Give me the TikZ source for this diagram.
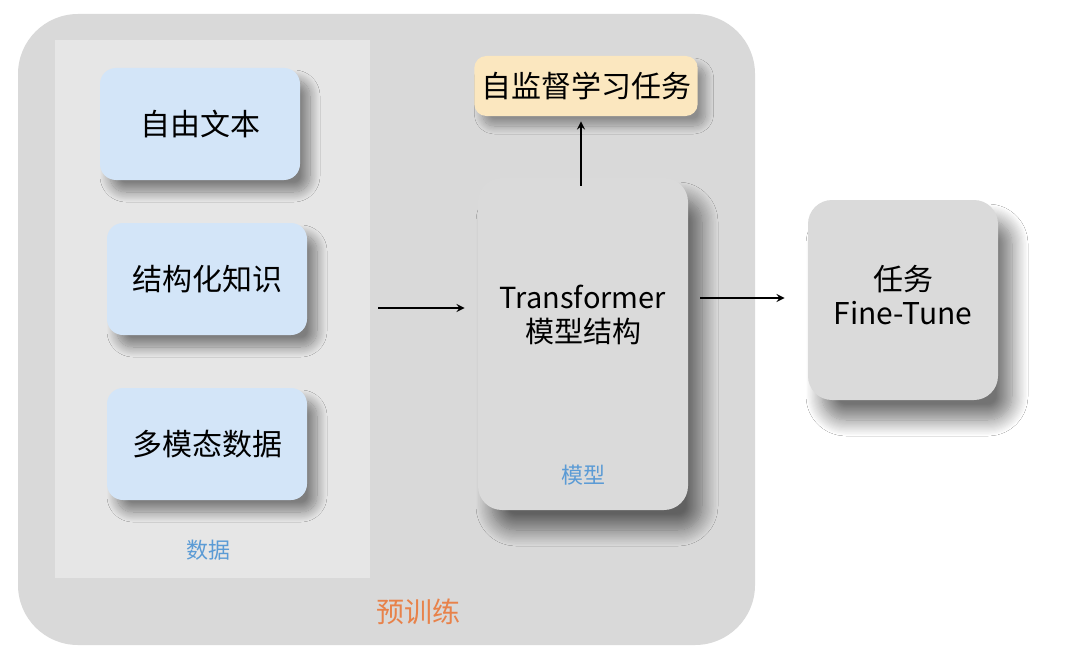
\documentclass[tikz,border=0pt]{standalone}
\usepackage{fontspec}
\setmainfont{Noto Sans CJK SC}
\usetikzlibrary{shadows.blur}

\definecolor{outergray}{HTML}{D9D9D9}
\definecolor{panelgray}{HTML}{E6E6E6}
\definecolor{boxblue}{HTML}{D3E5F8}
\definecolor{boxgray}{HTML}{DADADA}
\definecolor{taskyellow}{HTML}{FBE7BF}
\definecolor{labelblue}{HTML}{5B9BD5}
\definecolor{labelorange}{HTML}{E8824A}

\begin{document}
\begin{tikzpicture}[x=0.5pt, y=-0.5pt,
    databox/.style = {rounded corners=8pt, fill=boxblue, minimum width=100pt, minimum height=56pt,
        font=\fontsize{15}{18}\selectfont,
        blur shadow={shadow xshift=5pt, shadow yshift=-6pt, shadow blur radius=5pt,
            shadow blur steps=15, shadow opacity=45}},
    graybox/.style = {rounded corners=12pt, fill=boxgray, align=center,
        font=\fontsize{15}{17}\selectfont,
        blur shadow={shadow xshift=7pt, shadow yshift=-10pt, shadow blur radius=8pt,
            shadow blur steps=15, shadow opacity=55}},
    tag/.style = {font=\fontsize{11}{13}\selectfont, text=labelblue},
    >=stealth]
    \useasboundingbox (0,0) rectangle (1080,658);
    \fill[white] (0,0) rectangle (1080,658);
%% pretraining area and data panel
    \fill[outergray, rounded corners=30pt] (18,14) rectangle (755,645);
    \node[fill=panelgray, minimum width=157.5pt, minimum height=269pt, inner sep=0pt] (data) at (212.5,309) {};
    \node[databox] (freetext) at (200,124) {自由文本};
    \node[databox] (knowledge) at (207,279) {结构化知识};
    \node[databox] (multimodal) at (207,444) {多模态数据};
    \node[tag] (datalabel) at (208,550) {数据};
%% model and tasks
    \node[graybox, minimum width=105pt, minimum height=166pt] (model) at (583,344) {};
    \node[align=center, font=\fontsize{14.5}{17}\selectfont] (modeltext) at (583,315) {Transformer\\模型结构};
    \node[tag] (modellabel) at (583,475) {模型};
    \node[rounded corners=6pt, fill=taskyellow, minimum width=111pt, minimum height=30pt,
        font=\fontsize{15}{18}\selectfont,
        blur shadow={shadow xshift=4pt, shadow yshift=-5pt, shadow blur radius=4pt,
            shadow blur steps=15, shadow opacity=35}]
        (selfsup) at (586,86) {自监督学习任务};
    \node[graybox, minimum width=95pt, minimum height=100pt] (finetune) at (903,300) {};
    \node[align=center, font=\fontsize{15}{17}\selectfont] (finetunetext) at (903,295) {任务\\Fine-Tune};
    \node[font=\fontsize{14}{16}\selectfont, text=labelorange] (pretrain) at (418,612) {预训练};
%% arrows
    \draw[->, thick, shorten <=4pt, shorten >=6.5pt] (data.east |- 0,308) -- (model.west |- 0,308);
    \draw[->, thick, shorten <=-4pt, shorten >=2.5pt] (model.north -| 581,0) -- (selfsup.south -| 581,0);
    \draw[->, thick, shorten <=6pt, shorten >=11.5pt] (model.east |- 0,298) -- (finetune.west |- 0,298);
\end{tikzpicture}
\end{document}
